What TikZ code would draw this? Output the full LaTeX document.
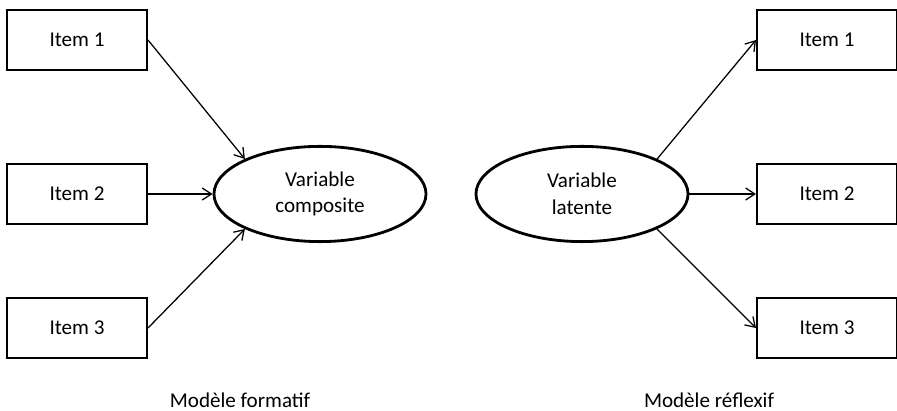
\documentclass[tikz,border=0pt]{standalone}
\usepackage{fontspec}
\setmainfont{Carlito}
\usetikzlibrary{shapes.geometric,arrows.meta}

\tikzset{
    itembox/.style={draw, line width=1.4pt, minimum width=3.5cm, minimum height=1.5cm, inner sep=0pt},
    construct/.style={draw, ellipse, line width=2pt, minimum width=5.3cm, minimum height=2.38cm, inner sep=0pt, align=center},
    link/.style={line width=0.9pt, -{Straight Barb[length=2.3mm,width=3mm]}}
}

\begin{document}
\begin{tikzpicture}[x=0.025cm, y=-0.025cm, font=\fontsize{15}{19}\selectfont]
    \useasboundingbox (0,0) rectangle (897,411);

    % Formative model
    \node[itembox] (f1) at (77,40) {Item 1};
    \node[itembox] (f2) at (77,194) {Item 2};
    \node[itembox] (f3) at (77,328) {Item 3};
    \node[construct] (comp) at (320,194) {Variable\\composite};

    \draw[link] (f1.east) -- (comp.155);
    \draw[link] (f2.east) -- (comp.west);
    \draw[link] (f3.east) -- (comp.205);

    \node (fcap) at (240,400) {Modèle formatif};

    % Reflective model
    \node[construct] (lat) at (582,194) {Variable\\latente};
    \node[itembox] (r1) at (827,40) {Item 1};
    \node[itembox] (r2) at (827,194) {Item 2};
    \node[itembox] (r3) at (827,328) {Item 3};

    \draw[link] (lat.25) -- (r1.west);
    \draw[link] (lat.east) -- (r2.west);
    \draw[link] (lat.-25) -- (r3.west);

    \node (rcap) at (709,400) {Modèle réflexif};
\end{tikzpicture}
\end{document}
